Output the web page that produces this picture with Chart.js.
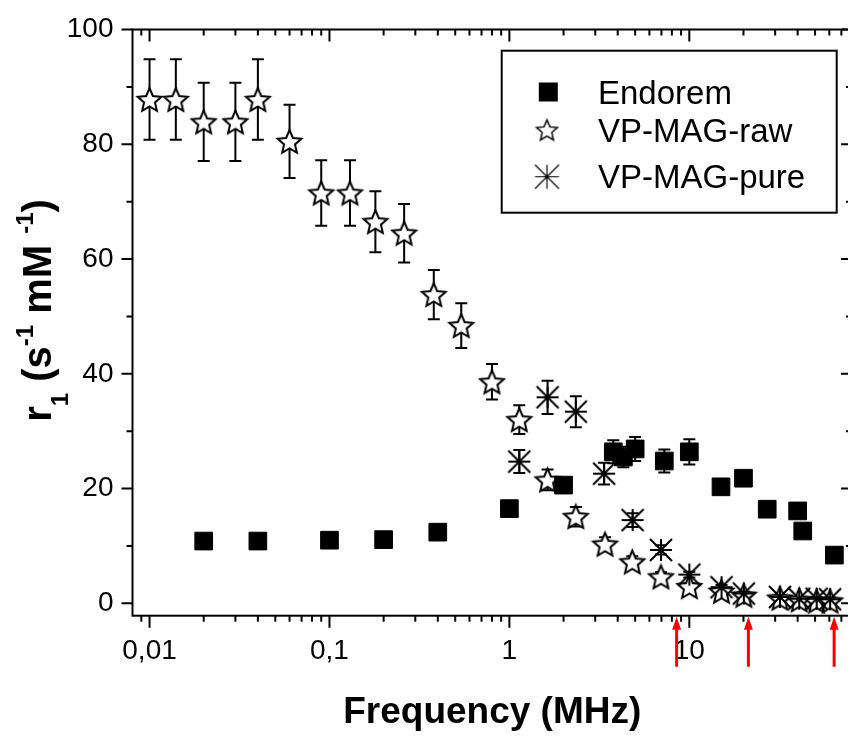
<!DOCTYPE html>
<html><head><meta charset="utf-8">
<script src="https://cdn.jsdelivr.net/npm/chart.js@4.4.1/dist/chart.umd.min.js"></script>
<style>
html,body{margin:0;padding:0;background:#fff;overflow:hidden;width:848px;height:737px;}
#wrap{position:absolute;left:0;top:0;width:860px;height:737px;}
</style></head><body>
<div id="wrap"><canvas id="c" width="860" height="737"></canvas></div>
<script>
// ---------- data ----------
const endoremFreq = [0.02, 0.04, 0.1, 0.2, 0.4, 1.0, 2.0, 3.78, 4.3, 5.0, 7.26, 10, 15, 20, 27.1, 40, 42.7, 64];
const endoremR1   = [10.85, 10.85, 11.0, 11.1, 12.4, 16.5, 20.6, 26.4, 25.5, 26.9, 24.8, 26.4, 20.3, 21.8, 16.4, 16.1, 12.6, 8.4];
const endoremErr  = [0.4, 0.4, 0.4, 0.4, 0.5, 0.6, 0.8, 2.0, 1.8, 2.1, 2.0, 2.2, 0.8, 1.0, 0.6, 0.6, 0.6, 0.5];

const rawFreq = [0.01, 0.014, 0.02, 0.03, 0.04, 0.06, 0.09, 0.13, 0.18, 0.26, 0.38, 0.54, 0.8, 1.135, 1.63, 2.34, 3.4, 4.82, 6.96, 10, 15.1, 20.1, 31.9, 40.8, 51, 60.6];
const rawR1   = [87.8, 87.8, 83.9, 83.9, 87.8, 80.5, 71.5, 71.5, 66.5, 64.5, 53.8, 48.4, 38.6, 32.0, 21.5, 15.1, 10.3, 7.2, 4.6, 2.9, 2.1, 1.4, 0.9, 0.6, 0.4, 0.4];
const rawErr  = [7.0, 7.0, 6.8, 6.8, 7.0, 6.4, 5.7, 5.7, 5.3, 5.1, 4.3, 3.9, 3.1, 2.5, 1.8, 1.7, 1.2, 1.0, 0.8, 0.6, 0.5, 0.4, 0.3, 0.3, 0.3, 0.3];

const pureFreq = [1.135, 1.63, 2.34, 3.36, 4.84, 6.96, 10, 15.1, 20.1, 31.9, 40.8, 51, 60.6];
const pureR1   = [24.7, 35.9, 33.4, 22.6, 14.5, 9.3, 5.0, 2.8, 1.7, 1.1, 0.8, 0.8, 0.7];
const pureErr  = [2.0, 2.9, 2.7, 1.9, 1.2, 0.8, 0.5, 0.4, 0.3, 0.3, 0.3, 0.3, 0.3];

const seriesLabels = ['Endorem', 'VP-MAG-raw', 'VP-MAG-pure'];
const yTicks = [0, 20, 40, 60, 80, 100];
const yTickLabels = ['0', '20', '40', '60', '80', '100'];
const xMajorTicks = [0.01, 0.1, 1, 10];
const xTickLabels = ['0,01', '0,1', '1', '10'];
const arrowFreqs = [8.5, 21.3, 63.8];
const xTitle = 'Frequency (MHz)';

// ---------- styling ----------
const FONT = "'Liberation Sans', Arial, sans-serif";

function starImg(R, lw) {
  const size = Math.ceil(2 * R + 2 * lw + 2);
  const c = document.createElement('canvas'); c.width = c.height = size;
  const g = c.getContext('2d');
  const cx = size / 2, cy = size / 2 + R * 0.09, r = R * 0.46;
  g.beginPath();
  for (let i = 0; i < 10; i++) {
    const a = -Math.PI / 2 + i * Math.PI / 5;
    const rr = i % 2 ? r : R;
    g.lineTo(cx + rr * Math.cos(a), cy + rr * Math.sin(a));
  }
  g.closePath();
  g.fillStyle = '#fff'; g.fill();
  g.lineWidth = lw; g.strokeStyle = '#000'; g.lineJoin = 'miter'; g.stroke();
  return c;
}
function asteriskImg(h, lw) {
  const size = Math.ceil(2 * h + 2 * lw + 2);
  const c = document.createElement('canvas'); c.width = c.height = size;
  const g = c.getContext('2d');
  const m = size / 2;
  g.strokeStyle = '#000'; g.lineWidth = lw; g.lineCap = 'butt';
  g.beginPath();
  g.moveTo(m - h, m); g.lineTo(m + h, m);
  g.moveTo(m, m - h); g.lineTo(m, m + h);
  g.moveTo(m - h, m - h); g.lineTo(m + h, m + h);
  g.moveTo(m + h, m - h); g.lineTo(m - h, m + h);
  g.stroke();
  return c;
}
const starPt = starImg(12.5, 2);
const starLeg = starImg(11, 1.5);
const astPt = asteriskImg(11, 2);
const astLeg = asteriskImg(12, 1.2);

const toXY = (xs, ys) => xs.map((x, i) => ({ x: x, y: ys[i] }));
const noPad = s => { s.paddingTop = 0; s.paddingBottom = 0; s.paddingLeft = 0; s.paddingRight = 0; };

const decorPlugin = {
  id: 'decor',
  beforeDatasetsDraw(chart) {
    const ctx = chart.ctx, xs = chart.scales.x, ys = chart.scales.y;
    ctx.save();
    ctx.strokeStyle = '#000'; ctx.lineWidth = 2;
    chart.data.datasets.forEach(ds => {
      if (!ds.errorBars) return;
      ds.data.forEach((p, i) => {
        const e = ds.errorBars[i];
        const px = xs.getPixelForValue(p.x);
        const yt = ys.getPixelForValue(p.y + e), yb = ys.getPixelForValue(p.y - e);
        ctx.beginPath();
        ctx.moveTo(px, yt); ctx.lineTo(px, yb);
        ctx.moveTo(px - 6, yt); ctx.lineTo(px + 6, yt);
        ctx.moveTo(px - 6, yb); ctx.lineTo(px + 6, yb);
        ctx.stroke();
      });
    });
    ctx.restore();
  },
  afterDraw(chart) {
    const ctx = chart.ctx, xs = chart.scales.x, ys = chart.scales.y, a = chart.chartArea;
    const L = a.left, R = a.right, T = a.top, B = a.bottom;
    ctx.save();
    ctx.strokeStyle = '#000'; ctx.lineWidth = 2;
    ctx.strokeRect(L, T, R - L, B - T);
    ctx.beginPath();
    xs.ticks.forEach(t => {
      const px = xs.getPixelForValue(t.value);
      const len = xMajorTicks.includes(t.value) ? 12 : 6;
      ctx.moveTo(px, B); ctx.lineTo(px, B + len);
      ctx.moveTo(px, T); ctx.lineTo(px, T + len);
    });
    ys.ticks.forEach(t => {
      const py = ys.getPixelForValue(t.value);
      const len = yTicks.includes(t.value) ? 11 : 6;
      ctx.moveTo(L - len, py); ctx.lineTo(L, py);
      ctx.moveTo(R, py); ctx.lineTo(R - len, py);
    });
    ctx.stroke();

    // red arrows under the x axis
    ctx.strokeStyle = '#ff0000'; ctx.fillStyle = '#ff0000'; ctx.lineWidth = 3;
    arrowFreqs.forEach(f => {
      const px = xs.getPixelForValue(f);
      ctx.beginPath(); ctx.moveTo(px, B + 51); ctx.lineTo(px, B + 10); ctx.stroke();
      ctx.beginPath(); ctx.moveTo(px, B + 1); ctx.lineTo(px - 4.5, B + 14); ctx.lineTo(px + 4.5, B + 14); ctx.closePath(); ctx.fill();
    });

    // legend
    ctx.strokeStyle = '#000'; ctx.lineWidth = 2;
    ctx.strokeRect(501.7, 50.7, 335, 162);
    const rows = [92, 130, 176.7];
    const base = [104, 141.7, 188.3];
    const mk = [null, starLeg, astLeg];
    ctx.fillStyle = '#000';
    ctx.font = '33px ' + FONT; ctx.textBaseline = 'alphabetic'; ctx.textAlign = 'left';
    chart.data.datasets.forEach((ds, i) => {
      if (i === 0) ctx.fillRect(548.3 - 9.5, rows[i] - 9.5, 19, 19);
      else ctx.drawImage(mk[i], 547 - mk[i].width / 2, rows[i] - mk[i].height / 2);
      ctx.fillText(ds.label, 598, base[i]);
    });

    // y axis title with sub/superscripts
    const parts = [
      { t: 'r', s: 40, dy: 0 },
      { t: '1', s: 24, dy: 17 },
      { t: ' (s', s: 40, dy: 0 },
      { t: '-1', s: 24, dy: -18 },
      { t: ' mM ', s: 40, dy: 0 },
      { t: '-1', s: 24, dy: -18 },
      { t: ')', s: 40, dy: 0 }
    ];
    let total = 0;
    parts.forEach(p => { ctx.font = 'bold ' + p.s + 'px ' + FONT; p.w = ctx.measureText(p.t).width; total += p.w; });
    ctx.translate(51, 310.5);
    ctx.rotate(-Math.PI / 2);
    let x = -total / 2;
    parts.forEach(p => {
      ctx.font = 'bold ' + p.s + 'px ' + FONT;
      ctx.fillText(p.t, x, p.dy);
      x += p.w;
    });
    ctx.restore();
  }
};

new Chart(document.getElementById('c'), {
  type: 'scatter',
  data: {
    datasets: [
      { label: seriesLabels[0], data: toXY(endoremFreq, endoremR1), errorBars: endoremErr,
        pointStyle: 'rect', pointRadius: 12.5, backgroundColor: '#000', borderColor: '#000', borderWidth: 1, order: 0 },
      { label: seriesLabels[1], data: toXY(rawFreq, rawR1), errorBars: rawErr,
        pointStyle: starPt, backgroundColor: '#fff', borderColor: '#000', order: 2 },
      { label: seriesLabels[2], data: toXY(pureFreq, pureR1), errorBars: pureErr,
        pointStyle: astPt, backgroundColor: '#000', borderColor: '#000', order: 1 }
    ]
  },
  options: {
    responsive: false, animation: false, events: [],
    layout: { autoPadding: false, padding: { left: 0, top: 29.5, right: 8, bottom: 0 } },
    plugins: { legend: { display: false }, tooltip: { enabled: false } },
    scales: {
      x: {
        type: 'logarithmic', min: 0.00804, max: 80.2,
        grid: { display: false, drawTicks: false }, border: { display: false },
        afterBuildTicks: s => {
          const t = [];
          for (let d = -3; d <= 1; d++) for (let m = 1; m <= 9; m++) {
            const v = m * Math.pow(10, d);
            if (v >= s.min && v <= s.max) t.push({ value: v });
          }
          s.ticks = t;
        },
        afterFit: s => { s.height = 121.3; noPad(s); },
        ticks: {
          autoSkip: false, maxRotation: 0, padding: 19, color: '#000',
          font: { family: FONT, size: 28 },
          callback: v => { const k = xMajorTicks.indexOf(v); return k >= 0 ? xTickLabels[k] : ''; }
        },
        title: { display: true, text: xTitle, color: '#000', padding: { top: 0, bottom: 2.3 },
          font: { family: FONT, size: 37, weight: 'bold' } }
      },
      y: {
        min: -2.16, max: 100,
        grid: { display: false, drawTicks: false }, border: { display: false },
        afterBuildTicks: s => {
          const t = [];
          for (let v = 0; v <= 100; v += 10) t.push({ value: v });
          s.ticks = t;
        },
        afterFit: s => { s.width = 132.5; noPad(s); },
        ticks: {
          autoSkip: false, padding: 19, color: '#000',
          font: { family: FONT, size: 28 },
          callback: v => { const k = yTicks.indexOf(v); return k >= 0 ? yTickLabels[k] : ''; }
        }
      }
    }
  },
  plugins: [decorPlugin]
});
</script>
</body></html>
